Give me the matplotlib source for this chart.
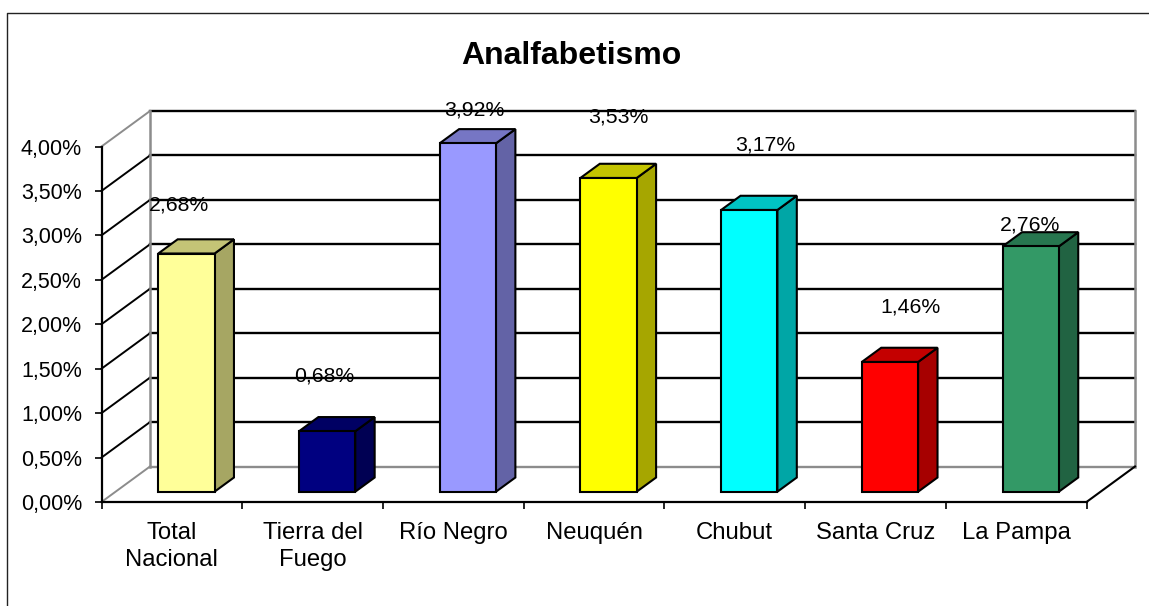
import matplotlib
matplotlib.use('Agg')
import matplotlib.pyplot as plt
from matplotlib.lines import Line2D
from matplotlib.patches import Polygon
from matplotlib.colors import to_rgb

plt.rcParams['font.family'] = ['Liberation Sans', 'DejaVu Sans']

# Datos
categorias = ['Total\nNacional', 'Tierra del\nFuego', 'Río Negro', 'Neuquén', 'Chubut', 'Santa Cruz', 'La Pampa']
valores = [2.68, 0.68, 3.92, 3.53, 3.17, 1.46, 2.76]
colores = ['#FFFF99', '#000080', '#9999FF', '#FFFF00', '#00FFFF', '#FF0000', '#339966']
ticks_y = [0, 0.5, 1, 1.5, 2, 2.5, 3, 3.5, 4]

# Posicion de cada etiqueta respecto a lo alto de su barra (pixeles)
offset_etiquetas = [(7, 49), (12, 55), (21, 33), (24, 61), (31, 65), (35, 55), (14, 21)]

W, H = 1149, 606
fig = plt.figure(figsize=(W / 100, H / 100), dpi=100)

# Marco del grafico (solo arriba e izquierda)
fig.add_artist(Line2D([7 / W, 7 / W, 1], [0, 1 - 12.5 / H, 1 - 12.5 / H], color='#222222', lw=1.0))

izq, der, abajo, arriba = 101.5, 1086.5, 502, 146.5
ax = fig.add_axes([izq / W, 1 - abajo / H, (der - izq) / W, (abajo - arriba) / H])
ax.set_xlim(0, len(valores))
ax.set_ylim(0, 4)
ax.patch.set_visible(False)

# Profundidad del 3D en unidades de datos
px_x = (der - izq) / len(valores)
px_y = (abajo - arriba) / 4
prof_x = 48.5 / px_x
prof_y = 35.5 / px_y
gris = '#8c8c8c'
n = len(valores)

# Paredes y rejilla
for t in ticks_y:
    c_pared = gris if t == 0 else 'black'
    c_lado = gris if t in (0, 4) else 'black'
    ax.plot([prof_x, n + prof_x], [t + prof_y, t + prof_y], color=c_pared, lw=1.7, zorder=1, clip_on=False)
    ax.plot([0, prof_x], [t, t + prof_y], color=c_lado, lw=1.4, zorder=1, clip_on=False)
ax.plot([prof_x, prof_x], [prof_y, 4 + prof_y], color=gris, lw=1.8, zorder=1, clip_on=False)
ax.plot([n + prof_x, n + prof_x], [prof_y, 4 + prof_y], color=gris, lw=1.8, zorder=1, clip_on=False)
ax.plot([n, n + prof_x], [0, prof_y], color='black', lw=1.5, zorder=1, clip_on=False)

# Barras
ancho = 0.4
d_ini_x, d_ini_y = prof_x * 0.30, prof_y * 0.29
d_x, d_y = prof_x * 0.40, prof_y * 0.40
for i, (v, col) in enumerate(zip(valores, colores)):
    x0 = i + 0.5 - ancho / 2 + d_ini_x
    x1 = x0 + ancho
    y0 = d_ini_y
    y1 = y0 + v
    base = to_rgb(col)
    lado = tuple(c * 0.65 for c in base)
    tapa = tuple(c * 0.77 for c in base)
    ax.bar(x0 + ancho / 2, v, width=ancho, bottom=y0, color=col, edgecolor='black', linewidth=1.5,
           zorder=3, clip_on=False)
    ax.add_patch(Polygon([(x1, y0), (x1 + d_x, y0 + d_y), (x1 + d_x, y1 + d_y), (x1, y1)],
                         facecolor=lado, edgecolor='black', lw=1.5, zorder=2.5, clip_on=False))
    ax.add_patch(Polygon([(x0, y1), (x0 + d_x, y1 + d_y), (x1 + d_x, y1 + d_y), (x1, y1)],
                         facecolor=tapa, edgecolor='black', lw=1.5, zorder=2.5, clip_on=False))
    dx, dy = offset_etiquetas[i]
    ax.annotate(f'{v:.2f}%'.replace('.', ','), (i + 0.5, y1), xytext=(dx, dy), textcoords='offset pixels',
                ha='center', va='center', fontsize=15.3, color='black', zorder=5, annotation_clip=False)

# Ejes
for s in ('top', 'right'):
    ax.spines[s].set_visible(False)
for s in ('left', 'bottom'):
    ax.spines[s].set_linewidth(1.6)
    ax.spines[s].set_zorder(4)
ax.set_yticks(ticks_y)
ax.set_yticklabels([f'{t:.2f}%'.replace('.', ',') for t in ticks_y], fontsize=15.5)
ax.set_xticks(range(n + 1))
ax.set_xticklabels([])
ax.set_xticks([i + 0.5 for i in range(n)], minor=True)
ax.set_xticklabels(categorias, minor=True, fontsize=17.2, linespacing=1.26)
ax.tick_params(axis='x', which='minor', length=0, pad=14.5)
ax.tick_params(axis='both', which='major', length=5, width=1.2)
ax.tick_params(axis='y', pad=9)

fig.text(571 / W, 1 - 56 / H, 'Analfabetismo', ha='center', va='center', fontsize=23, fontweight='bold')

fig.savefig('out.png', dpi=100)
